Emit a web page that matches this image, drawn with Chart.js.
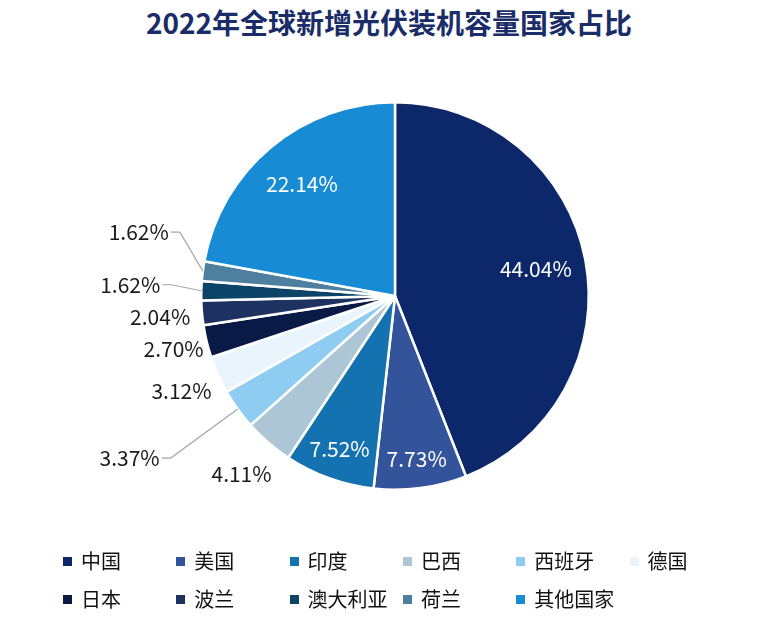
<!DOCTYPE html>
<html>
<head>
<meta charset="utf-8">
<script src="https://cdn.jsdelivr.net/npm/chart.js@4"></script>
<style>
  html, body { margin: 0; padding: 0; background: #fff; }
  #wrap { position: relative; width: 778px; height: 632px; overflow: hidden; font-family: "Noto Sans CJK SC", sans-serif; }
  #title { position: absolute; left: 0; top: 3px; width: 778px; text-align: center; font-size: 28px; font-weight: 700; color: #1a2d68; line-height: 38px; }
  #chart { position: absolute; left: 0; top: 0; }
  #legend { position: absolute; left: 63px; top: 546px; width: 700px; }
  .item { position: absolute; height: 30px; line-height: 30px; font-size: 20px; color: #111; white-space: nowrap; }
  .box { position: absolute; left: 0; top: 11px; width: 9px; height: 9px; }
  .txt { position: absolute; left: 18px; top: 0; }
</style>
</head>
<body>
<div id="wrap">
  <div id="title">2022年全球新增光伏装机容量国家占比</div>
  <canvas id="chart" width="778" height="632"></canvas>
  <div id="legend"></div>
</div>
<script>
// 数据
var countries = ['中国', '美国', '印度', '巴西', '西班牙', '德国', '日本', '波兰', '澳大利亚', '荷兰', '其他国家'];
var shares = [44.04, 7.73, 7.52, 4.11, 3.37, 3.12, 2.70, 2.04, 1.62, 1.62, 22.14];
var colors = ['#0c276a', '#33539a', '#1572b0', '#adc6d6', '#8fccf2', '#e9f4fd', '#0a1a46', '#1e3262', '#0c4468', '#4e7f9f', '#178bd4'];

// 标签样式：in = 扇区内部，out = 外侧，leader = 带引线（elbow 为相对扇区外缘的偏移）
var labelStyle = [
  { mode: 'in', k: 0.74 },
  { mode: 'in', k: 0.85 },
  { mode: 'in', k: 0.84 },
  { mode: 'out', d: 41 },
  { mode: 'leader', elbow: [-67, 49] },
  { mode: 'out', d: 40 },
  { mode: 'out', d: 34 },
  { mode: 'out', d: 42 },
  { mode: 'leader', elbow: [-30, -6] },
  { mode: 'leader', elbow: [-23, -39] },
  { mode: 'in', k: 0.75 }
];

var pctLabels = {
  id: 'pctLabels',
  afterDatasetsDraw: function(chart) {
    var ctx = chart.ctx;
    var arcs = chart.getDatasetMeta(0).data;
    ctx.save();
    ctx.font = '21px "Noto Sans CJK SC", sans-serif';
    ctx.textBaseline = 'middle';
    arcs.forEach(function(arc, i) {
      var st = labelStyle[i];
      var text = shares[i].toFixed(2) + '%';
      var mid = (arc.startAngle + arc.endAngle) / 2;
      var r = arc.outerRadius;
      var cos = Math.cos(mid), sin = Math.sin(mid);
      if (st.mode === 'in') {
        ctx.fillStyle = '#ffffff';
        ctx.textAlign = 'center';
        ctx.fillText(text, arc.x + cos * r * st.k, arc.y + sin * r * st.k);
      } else if (st.mode === 'out') {
        ctx.fillStyle = '#1a1a1a';
        ctx.textAlign = 'center';
        ctx.fillText(text, arc.x + cos * (r + st.d), arc.y + sin * (r + st.d));
      } else {
        var ex = arc.x + cos * r, ey = arc.y + sin * r;
        var bx = ex + st.elbow[0], by = ey + st.elbow[1];
        ctx.strokeStyle = '#a6a6a6';
        ctx.lineWidth = 1.2;
        ctx.beginPath();
        ctx.moveTo(ex, ey);
        ctx.lineTo(bx, by);
        ctx.lineTo(bx - 9, by);
        ctx.stroke();
        ctx.fillStyle = '#1a1a1a';
        ctx.textAlign = 'right';
        ctx.fillText(text, bx - 11, by);
      }
    });
    ctx.restore();
  }
};

new Chart(document.getElementById('chart').getContext('2d'), {
  type: 'pie',
  data: {
    labels: countries,
    datasets: [{
      data: shares,
      backgroundColor: colors,
      borderColor: '#ffffff',
      borderWidth: 2.5
    }]
  },
  options: {
    responsive: false,
    animation: false,
    layout: { padding: { left: 200, right: 188, top: 101, bottom: 141 } },
    plugins: {
      legend: { display: false },
      tooltip: { enabled: false }
    }
  },
  plugins: [pctLabels]
});

// 图例
var legend = document.getElementById('legend');
countries.forEach(function(name, i) {
  var item = document.createElement('div');
  item.className = 'item';
  item.style.left = (i % 6) * 113.3 + 'px';
  item.style.top = Math.floor(i / 6) * 38 + 'px';
  item.innerHTML = '<span class="box" style="background:' + colors[i] + '"></span><span class="txt">' + name + '</span>';
  legend.appendChild(item);
});
</script>
</body>
</html>
